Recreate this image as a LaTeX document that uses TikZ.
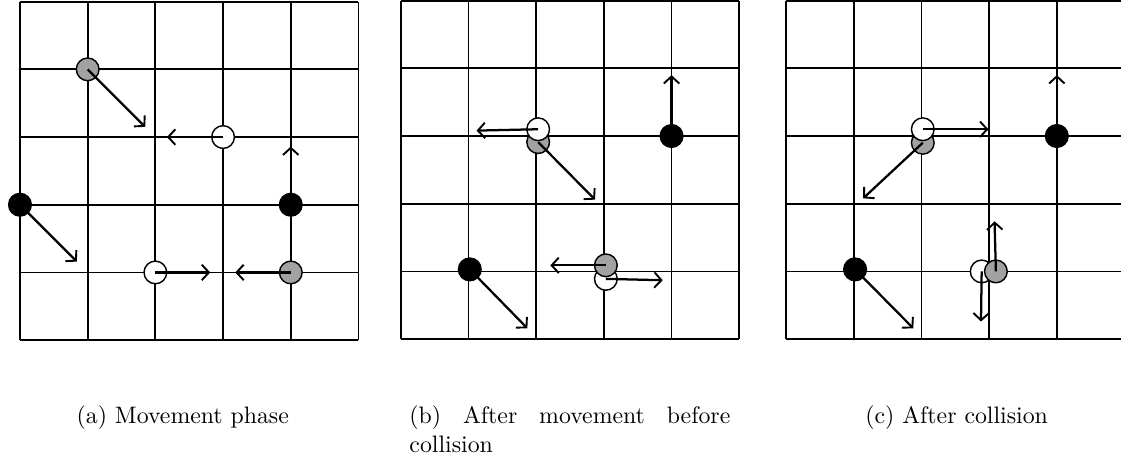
\documentclass[tikz,border=0pt]{standalone}
\usetikzlibrary{arrows.meta}
\definecolor{agentgray}{RGB}{162,162,162}
\tikzset{
  cellgrid/.style={line width=0.75pt, black},
  agent/.style={circle, draw=black, line width=0.6pt, minimum size=0.335cm, inner sep=0pt},
  blackag/.style={agent, fill=black},
  whiteag/.style={agent, fill=white},
  grayag/.style={agent, fill=agentgray},
  vel/.style={-{Straight Barb[length=3pt,width=6.5pt,line width=0.8pt]}, line width=0.95pt, black},
  subcap/.style={font=\normalsize, inner sep=0pt}
}
\begin{document}
\begin{tikzpicture}
\useasboundingbox (0,0) rectangle (16.558,6.824);

% (a) movement phase
\begin{scope}[shift={(0.295,1.800)}]
  \draw[cellgrid] (0,0) grid (5,5);
  \node[grayag] (ag1) at (1,4) {};
  \coordinate (ag1v) at (1.85,3.15);
  \draw[vel] (ag1.center) -- (ag1v);
  \node[whiteag] (aw1) at (3,3) {};
  \coordinate (aw1v) at (2.17,3);
  \draw[vel] (aw1.center) -- (aw1v);
  \node[blackag] (ab1) at (0,2) {};
  \coordinate (ab1v) at (0.84,1.16);
  \draw[vel] (ab1.center) -- (ab1v);
  \node[blackag] (ab2) at (4,2) {};
  \coordinate (ab2v) at (4,2.86);
  \draw[vel] (ab2.center) -- (ab2v);
  \node[whiteag] (aw2) at (2,1) {};
  \coordinate (aw2v) at (2.81,1);
  \draw[vel] (aw2.center) -- (aw2v);
  \node[grayag] (ag2) at (4,1) {};
  \coordinate (ag2v) at (3.18,1);
  \draw[vel] (ag2.center) -- (ag2v);
\end{scope}

% (b) after movement, before collision
\begin{scope}[shift={(5.919,1.815)}]
  \draw[cellgrid] (0,0) grid (5,5);
  \node[grayag] (bg1) at (2.03,2.91) {};
  \coordinate (bg1v) at (2.87,2.06);
  \draw[vel] (bg1.center) -- (bg1v);
  \node[whiteag] (bw1) at (2.03,3.1) {};
  \coordinate (bw1v) at (1.12,3.08);
  \draw[vel] (bw1.center) -- (bw1v);
  \node[blackag] (bb1) at (4,3) {};
  \coordinate (bb1v) at (4,3.9);
  \draw[vel] (bb1.center) -- (bb1v);
  \node[blackag] (bb2) at (1.02,1.03) {};
  \coordinate (bb2v) at (1.87,0.16);
  \draw[vel] (bb2.center) -- (bb2v);
  \node[whiteag] (bw2) at (3.03,0.89) {};
  \coordinate (bw2v) at (3.87,0.87);
  \draw[vel] (bw2.center) -- (bw2v);
  \node[grayag] (bg2) at (3.03,1.09) {};
  \coordinate (bg2v) at (2.21,1.09);
  \draw[vel] (bg2.center) -- (bg2v);
\end{scope}

% (c) after collision
\begin{scope}[shift={(11.610,1.815)}]
  \draw[cellgrid] (0,0) grid (5,5);
  \node[grayag] (cg1) at (2.02,2.9) {};
  \coordinate (cg1v) at (1.14,2.08);
  \draw[vel] (cg1.center) -- (cg1v);
  \node[whiteag] (cw1) at (2.02,3.1) {};
  \coordinate (cw1v) at (2.99,3.1);
  \draw[vel] (cw1.center) -- (cw1v);
  \node[blackag] (cb1) at (4,3) {};
  \coordinate (cb1v) at (4,3.9);
  \draw[vel] (cb1.center) -- (cb1v);
  \node[blackag] (cb2) at (1.02,1.03) {};
  \coordinate (cb2v) at (1.88,0.16);
  \draw[vel] (cb2.center) -- (cb2v);
  \node[whiteag] (cw2) at (2.89,1) {};
  \coordinate (cw2v) at (2.88,0.26);
  \draw[vel] (cw2.center) -- (cw2v);
  \node[grayag] (cg2) at (3.1,1) {};
  \coordinate (cg2v) at (3.08,1.74);
  \draw[vel] (cg2.center) -- (cg2v);
\end{scope}

% subfigure captions
\node[subcap, anchor=base] (capa) at (2.70,0.576) {(a) Movement phase};
\node[subcap, anchor=north west, text width=4.74cm, align=justify]
  (capb) at (6.041,0.840) {\hyphenpenalty=10000 (b) After movement before\linebreak collision};
\node[subcap, anchor=base] (capc) at (14.13,0.576) {(c) After collision};
\end{tikzpicture}
\end{document}
